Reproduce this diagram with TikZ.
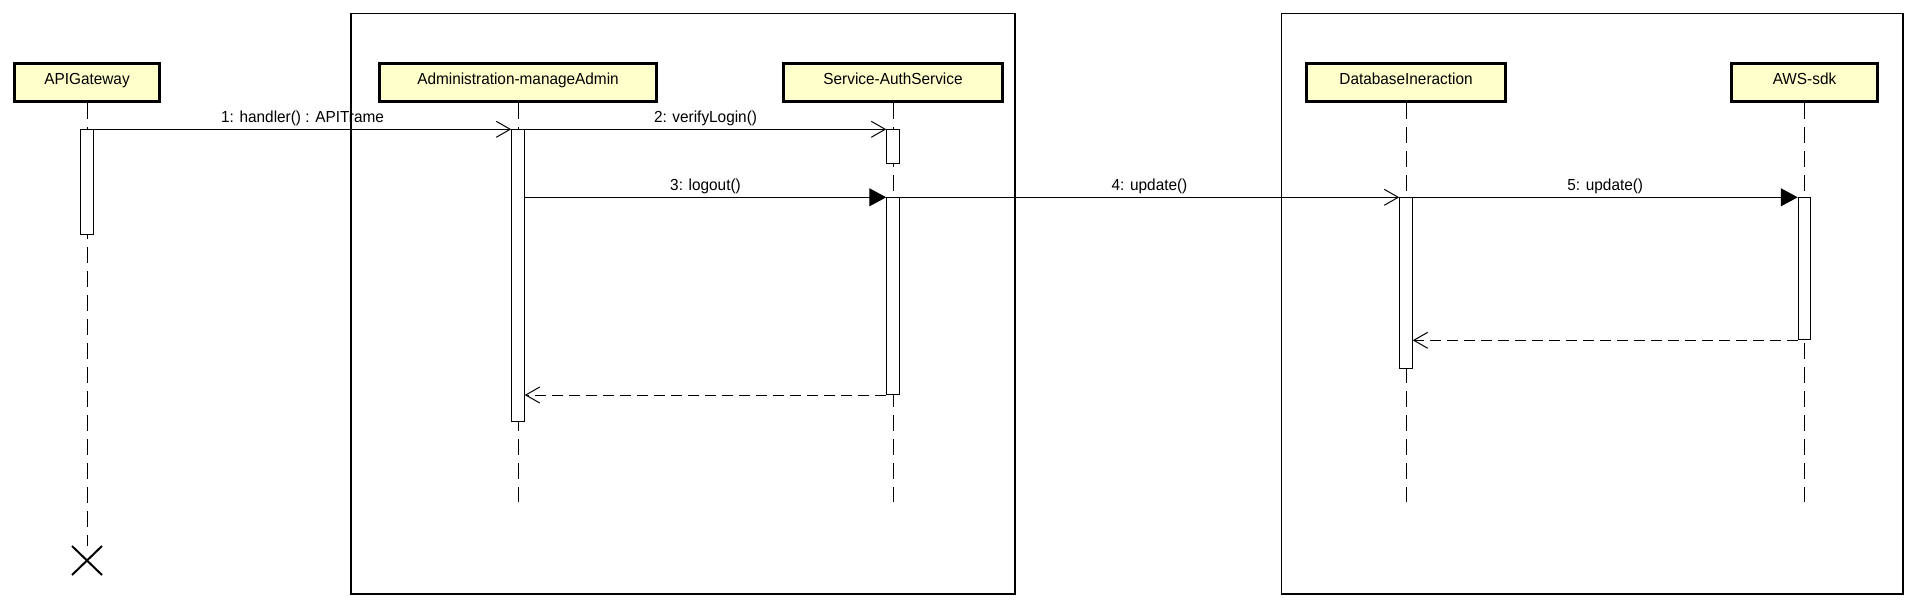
\documentclass[tikz,border=0pt]{standalone}
\usepackage{fontspec}
\setmainfont{Liberation Sans}[FakeStretch=0.96]
\usetikzlibrary{arrows.meta,shapes.misc}
\definecolor{actorfill}{RGB}{255,255,204}
\begin{document}
\begin{tikzpicture}[x=1pt,y=-1pt,
  font=\fontsize{16}{19}\selectfont,
  actor/.style={draw, line width=3pt, fill=actorfill, minimum height=38.5pt, inner sep=0pt,
    text height=12pt, text depth=8.8pt, anchor=center},
  actbar/.style={draw, line width=1pt, fill=white, minimum width=12.5pt, inner sep=0pt, anchor=north},
  lifeline/.style={line width=1pt, dash pattern=on 16pt off 8pt},
  frameline/.style={line width=1.4pt},
  msg/.style={line width=1pt},
  sync/.style={msg, -{Triangle[length=17pt,width=18pt]}},
  async/.style={msg, -{Straight Barb[length=14pt,width=16pt]}},
  reply/.style={msg, dash pattern=on 11pt off 6pt, -{Straight Barb[length=14pt,width=16pt]}},
  lbl/.style={anchor=south, inner sep=0pt, yshift=3pt}
]
\useasboundingbox (0,0) rectangle (1917,608);

% frames
\draw[frameline] (351,13.4) rectangle (1015,594);
\draw[frameline] (1281.5,13.4) rectangle (1903,594);

% actor boxes
\node[actor, minimum width=145pt] (gw) at (87,82.7) {APIGateway};
\node[actor, minimum width=277.6pt] (admin) at (518,82.7) {Administration-manageAdmin};
\node[actor, minimum width=219pt] (svc) at (893,82.7) {Service-AuthService};
\node[actor, minimum width=199pt] (db) at (1406,82.7) {DatabaseIneraction};
\node[actor, minimum width=146pt] (aws) at (1804.5,82.7) {AWS-sdk};

% lifeline ends
\node[cross out, draw, line width=2pt, minimum width=28pt, minimum height=27pt, inner sep=0pt] (gwend) at (87,560.5) {};
\coordinate (adminend) at (518,502);
\coordinate (svcend) at (893,502);
\coordinate (dbend) at (1406,502);
\coordinate (awsend) at (1804.5,502);

% lifelines
\draw[lifeline] (gw.south) -- (gwend.north);
\draw[lifeline] (admin.south) -- (adminend);
\draw[lifeline] (svc.south) -- (svcend);
\draw[lifeline] (db.south) -- (dbend);
\draw[lifeline] (aws.south) -- (awsend);

% activation bars
\node[actbar, minimum height=105pt] (gwact) at (87,129.3) {};
\node[actbar, minimum height=291.5pt] (adminact) at (518,129.3) {};
\node[actbar, minimum height=34pt] (svcact1) at (893,129.3) {};
\node[actbar, minimum height=196.7pt] (svcact2) at (893,197.3) {};
\node[actbar, minimum height=170.5pt] (dbact) at (1406,197.3) {};
\node[actbar, minimum height=142pt] (awsact) at (1804.5,197.3) {};

% messages
\draw[async] (gwact.north east) -- node[lbl] {1: handler() : APITrame} (adminact.north west);
\draw[async] (adminact.north east) -- node[lbl] {2: verifyLogin()} (svcact1.north west);
\draw[sync] (adminact.east |- svcact2.north) -- node[lbl] {3: logout()} (svcact2.north west);
\draw[async] (svcact2.north east) -- node[lbl] {4: update()} (dbact.north west);
\draw[sync] (dbact.north east) -- node[lbl] {5: update()} (awsact.north west);

% replies
\draw[reply] (awsact.south west) -- (dbact.east |- awsact.south);
\draw[reply] (svcact2.south west) -- (adminact.east |- svcact2.south);
\end{tikzpicture}
\end{document}
